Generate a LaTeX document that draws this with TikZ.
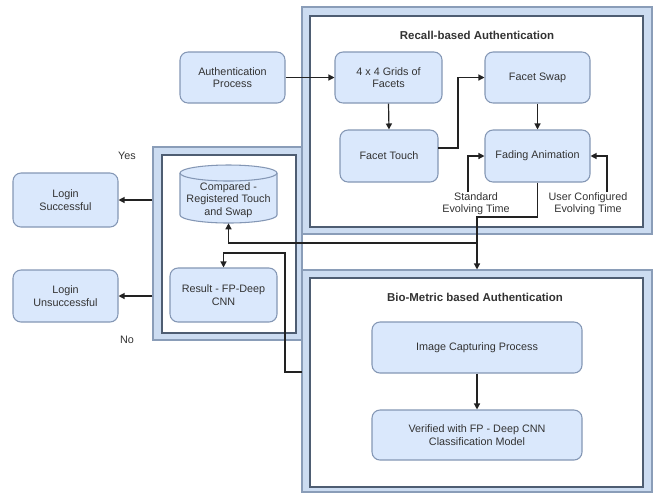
\documentclass[tikz,border=0pt]{standalone}
\usepackage{fontspec}
\setmainfont{Liberation Sans}
\usetikzlibrary{arrows.meta}
\definecolor{boxfill}{HTML}{DAE8FC}
\definecolor{boxline}{HTML}{8497B5}
\definecolor{bandfill}{HTML}{CCDCF1}
\definecolor{bandline}{HTML}{8A9DB8}
\definecolor{frameline}{HTML}{4E5D72}
\definecolor{txt}{HTML}{333333}
\definecolor{conn}{HTML}{222222}
\tikzset{
  every node/.style={font=\fontsize{8.1}{9.2}\selectfont, text=txt},
  procbox/.style={draw=boxline, fill=boxfill, line width=0.8pt, rounded corners=6pt, align=center, inner sep=2pt},
  outerframe/.style={draw=bandline, fill=bandfill, line width=0.8pt, inner sep=0pt},
  innerframe/.style={draw=frameline, fill=white, line width=1.1pt, inner sep=0pt},
  arr/.style={draw=conn, line width=0.9pt, -{Triangle[length=4.5pt,width=4.5pt]}},
  titletext/.style={font=\bfseries\fontsize{8.6}{10}\selectfont},
  plain/.style={align=center, inner sep=1pt}
}
\begin{document}
\begin{tikzpicture}[x=0.75pt,y=-0.75pt]
\useasboundingbox (0,0) rectangle (655,494);
% frames
\node[outerframe, minimum width=111.75pt, minimum height=144.75pt] (leftO) at (227.5,243.5) {};
\node[innerframe, minimum width=100.5pt, minimum height=133.5pt] (leftI) at (229,244) {};
\node[outerframe, minimum width=262.5pt, minimum height=170.25pt] (recO) at (477,120.5) {};
\node[innerframe, minimum width=249.75pt, minimum height=158.25pt] (recI) at (476.5,121.5) {};
\node[outerframe, minimum width=262.5pt, minimum height=166.5pt] (bioO) at (477,381) {};
\node[innerframe, minimum width=249.75pt, minimum height=156.75pt] (bioI) at (476.5,382.5) {};
% titles
\node[titletext] (recT) at (477,35) {Recall-based Authentication};
\node[titletext] (bioT) at (475,297) {Bio-Metric based Authentication};
% recall nodes
\node[procbox, minimum width=78.75pt, minimum height=38.25pt] (auth) at (232.5,77.5) {Authentication\\Process};
\node[procbox, minimum width=80.25pt, minimum height=38.25pt] (grid) at (388.5,77.5) {4 x 4 Grids of\\Facets};
\node[procbox, minimum width=78.75pt, minimum height=38.25pt] (swap) at (537.5,77.5) {Facet Swap};
\node[procbox, minimum width=73.5pt, minimum height=39pt] (touch) at (389,156) {Facet Touch};
\node[procbox, minimum width=78.75pt, minimum height=39pt] (fade) at (537.5,156) {Fading Animation};
\node[plain] (std) at (476,204) {Standard\\Evolving Time};
\node[plain] (usr) at (588,204) {User Configured\\Evolving Time};
% cylinder
\fill[boxfill] (180,173) -- (180,215) arc[start angle=180,end angle=0,x radius=48.5,y radius=8] -- (277,173) arc[start angle=0,end angle=-180,x radius=48.5,y radius=8] -- cycle;
\draw[boxline, line width=0.8pt] (180,173) -- (180,215) arc[start angle=180,end angle=0,x radius=48.5,y radius=8] -- (277,173);
\draw[boxline, line width=0.8pt] (228.5,173) ellipse[x radius=48.5, y radius=8];
\node[plain, minimum width=72.75pt, minimum height=34.5pt, font=\fontsize{8.1}{9.6}\selectfont] (cyl) at (228.5,200) {Compared -\\Registered Touch\\and Swap};
% left nodes
\node[procbox, minimum width=80.25pt, minimum height=40.5pt] (result) at (223.5,295) {Result - FP-Deep\\CNN};
\node[procbox, minimum width=78.75pt, minimum height=40.5pt] (logS) at (65.5,200) {Login\\Successful};
\node[procbox, minimum width=78.75pt, minimum height=39pt] (logU) at (65.5,296) {Login\\Unsuccessful};
\node[plain] (yes) at (127,156) {Yes};
\node[plain] (no) at (127,340) {No};
% bio nodes
\node[procbox, minimum width=157.5pt, minimum height=38.25pt] (imgcap) at (477,347.5) {Image Capturing Process};
\node[procbox, minimum width=157.5pt, minimum height=37.5pt] (verif) at (477,435) {Verified with FP - Deep CNN\\Classification Model};
% connectors
\draw[arr] (auth.east) -- (grid.west);
\draw[arr] (grid.south) -- (touch.north);
\coordinate (tk) at (438,148);
\draw[arr] (tk) -- (458,148) |- (swap.west);
\draw[arr] (swap.south) -- (fade.north);
\coordinate (s1) at (468,192);
\coordinate (u1) at (607,192);
\draw[arr] (s1) |- (fade.west);
\draw[arr] (u1) |- (fade.east);
\coordinate (j1) at (477,217);
\draw[arr] (fade.south) |- (j1) -- (bioO.north);
\coordinate (j2) at (477,243);
\draw[arr] (j2) -| (cyl.south);
\coordinate (b1) at (302,372);
\coordinate (b2) at (285,253);
\draw[arr] (b1) -| (b2) -| (result.north);
\draw[arr] (leftO.west |- logS.east) -- (logS.east);
\draw[arr] (leftO.west |- logU.east) -- (logU.east);
\draw[arr] (imgcap.south) -- (verif.north);
\end{tikzpicture}
\end{document}
